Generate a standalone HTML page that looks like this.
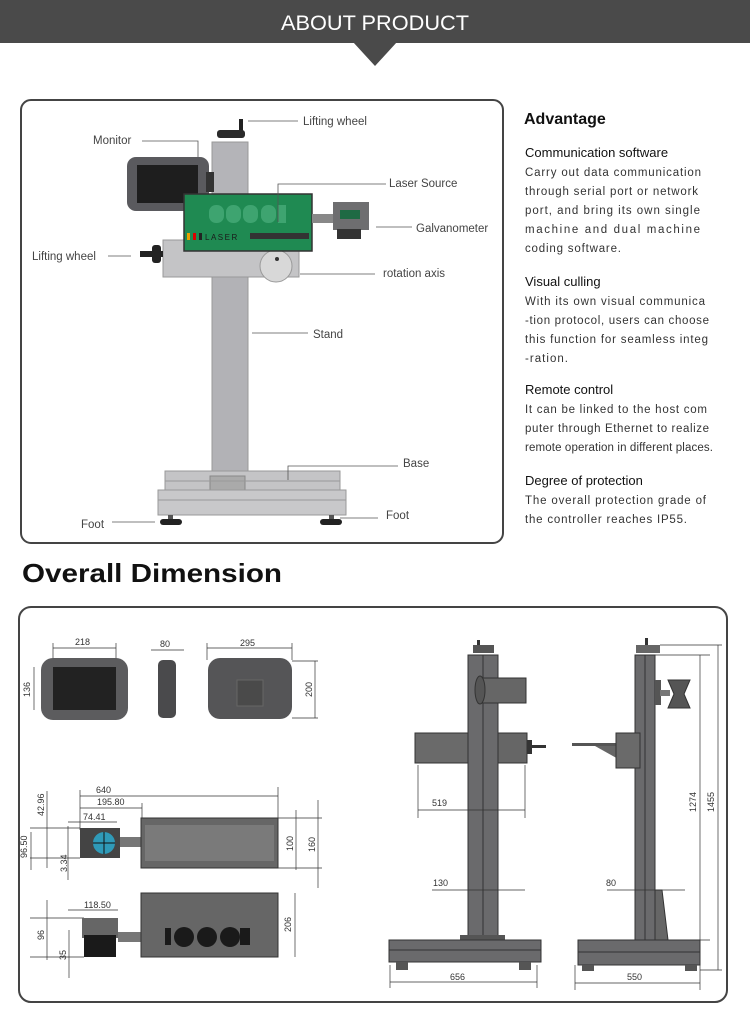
<!DOCTYPE html>
<html><head><meta charset="utf-8"><style>
html,body{margin:0;padding:0;background:#fff;}
svg{display:block;font-family:"Liberation Sans",sans-serif;}
</style></head><body>
<svg width="750" height="1017" viewBox="0 0 750 1017" xmlns="http://www.w3.org/2000/svg">
<!-- header -->
<rect x="0" y="0" width="750" height="43" fill="#4a4a4a"/>
<polygon points="353,42 397,42 375,66" fill="#4a4a4a"/>
<text x="375" y="30" fill="#fff" font-size="21" text-anchor="middle" textLength="188" lengthAdjust="spacingAndGlyphs">ABOUT PRODUCT</text>

<!-- top box -->
<rect x="21" y="100" width="482" height="443" rx="10" fill="#fff" stroke="#444" stroke-width="2"/>

<!-- machine -->
<g>
<!-- top lifting wheel -->
<rect x="239" y="119" width="4" height="12" fill="#222"/>
<rect x="217" y="130" width="28" height="8" rx="3" fill="#2a2a2a"/>
<!-- upper pole -->
<rect x="212" y="142" width="36" height="55" fill="#b4b4b8" stroke="#999"/>
<!-- monitor -->
<rect x="127" y="157" width="82" height="54" rx="9" fill="#5a5a5e"/>
<rect x="137" y="165" width="61" height="38" fill="#1e1e1e"/>
<rect x="206" y="172" width="8" height="20" fill="#333"/>
<!-- crossbar -->
<rect x="163" y="240" width="136" height="37" fill="#c4c4c6" stroke="#999"/>
<rect x="140" y="251" width="23" height="6" fill="#222"/>
<rect x="152" y="245" width="9" height="18" rx="3" fill="#222"/>
<circle cx="276" cy="266" r="16" fill="#d8d8d8" stroke="#999"/>
<circle cx="277" cy="259" r="2" fill="#333"/>
<!-- green laser -->
<rect x="184" y="194" width="128" height="57" fill="#1f8a52" stroke="#333" stroke-width="1.5"/>
<g fill="#3ea470">
<rect x="209" y="205" width="15" height="18" rx="7"/><rect x="226" y="205" width="15" height="18" rx="7"/><rect x="243" y="205" width="15" height="18" rx="7"/><rect x="261" y="205" width="15" height="18" rx="7"/><rect x="278" y="205" width="8" height="18"/>
</g>
<rect x="187" y="233" width="3" height="7" fill="#e8a000"/>
<rect x="193" y="233" width="3" height="7" fill="#d00"/>
<rect x="199" y="233" width="3" height="7" fill="#222"/>
<text x="205" y="240" font-size="8" fill="#1a1a1a" letter-spacing="1.5">LASER</text>
<rect x="250" y="233" width="59" height="6" fill="#333"/>
<!-- galvo -->
<rect x="312" y="214" width="22" height="9" fill="#888"/>
<rect x="333" y="202" width="36" height="28" fill="#6e6e70"/>
<rect x="340" y="210" width="20" height="9" fill="#1f6a44"/>
<rect x="337" y="229" width="24" height="10" fill="#333"/>
<!-- stand -->
<rect x="212" y="277" width="36" height="207" fill="#b2b2b6" stroke="#999"/>
<!-- base -->
<rect x="165" y="471" width="175" height="19" fill="#c4c4c6" stroke="#999"/>
<rect x="210" y="476" width="35" height="14" fill="#aaa" stroke="#888"/>
<rect x="158" y="490" width="188" height="25" fill="#c8c8ca" stroke="#999"/>
<line x1="158" y1="500" x2="346" y2="500" stroke="#999"/>
<line x1="165" y1="481" x2="340" y2="481" stroke="#999"/>
<rect x="168" y="515" width="5" height="5" fill="#555"/>
<rect x="160" y="519" width="22" height="6" rx="3" fill="#222"/>
<rect x="329" y="515" width="5" height="5" fill="#555"/>
<rect x="320" y="519" width="22" height="6" rx="3" fill="#222"/>
</g>
<!-- leader lines -->
<g stroke="#555" stroke-width="0.8" fill="none">
<line x1="248" y1="121" x2="298" y2="121"/>
<polyline points="142,141 198,141 198,157"/>
<polyline points="278,222 278,184 386,184"/>
<line x1="376" y1="227" x2="412" y2="227"/>
<line x1="108" y1="256" x2="131" y2="256"/>
<line x1="300" y1="274" x2="375" y2="274"/>
<line x1="252" y1="333" x2="308" y2="333"/>
<polyline points="288,480 288,466 398,466"/>
<line x1="112" y1="522" x2="155" y2="522"/>
<line x1="340" y1="518" x2="378" y2="518"/>
</g>
<g font-size="11.5" fill="#444">
<text x="303" y="125">Lifting wheel</text>
<text x="93" y="144">Monitor</text>
<text x="389" y="187">Laser  Source</text>
<text x="416" y="232">Galvanometer</text>
<text x="32" y="260">Lifting wheel</text>
<text x="383" y="277">rotation axis</text>
<text x="313" y="338">Stand</text>
<text x="403" y="467">Base</text>
<text x="81" y="528">Foot</text>
<text x="386" y="519">Foot</text>
</g>

<!-- advantage text -->
<text x="524" y="124" font-size="16" font-weight="bold" fill="#111">Advantage</text>
<g fill="#111" font-size="13">
<text x="525" y="157">Communication software</text>
<text x="525" y="286">Visual culling</text>
<text x="525" y="394">Remote control</text>
<text x="525" y="485">Degree of protection</text>
</g>
<g fill="#333" font-size="11.5" lengthAdjust="spacingAndGlyphs">
<text x="525" y="176" textLength="176">Carry out data communication</text>
<text x="525" y="195" textLength="173">through serial port or network</text>
<text x="525" y="214" textLength="175">port, and bring its own single</text>
<text x="525" y="233" textLength="175">machine and dual machine</text>
<text x="525" y="252" textLength="96">coding software.</text>
<text x="525" y="305" textLength="180">With its own visual communica</text>
<text x="525" y="324" textLength="184">-tion protocol, users can choose</text>
<text x="525" y="343" textLength="183">this function for seamless integ</text>
<text x="525" y="362" textLength="43">-ration.</text>
<text x="525" y="413" textLength="182">It can be linked to the host com</text>
<text x="525" y="432" textLength="184">puter through Ethernet to realize</text>
<text x="525" y="451" textLength="188">remote operation in different places.</text>
<text x="525" y="504" textLength="181">The overall protection grade of</text>
<text x="525" y="523" textLength="162">the controller reaches IP55.</text>
</g>

<!-- Overall Dimension -->
<text x="22" y="582" font-size="26" font-weight="bold" fill="#111" textLength="260" lengthAdjust="spacingAndGlyphs">Overall Dimension</text>
<rect x="19" y="607" width="708" height="395" rx="12" fill="#fff" stroke="#444" stroke-width="2"/>

<!-- left dims -->
<g stroke="#333" stroke-width="0.7" fill="none">
<line x1="53" y1="648" x2="116" y2="648"/><line x1="53" y1="643" x2="53" y2="665"/><line x1="116" y1="643" x2="116" y2="665"/>
<line x1="34" y1="667" x2="34" y2="710"/>
<line x1="151" y1="650" x2="184" y2="650"/>
<line x1="207" y1="648" x2="292" y2="648"/><line x1="207" y1="643" x2="207" y2="660"/><line x1="292" y1="643" x2="292" y2="660"/>
<line x1="315" y1="661" x2="315" y2="718"/><line x1="292" y1="661" x2="318" y2="661"/><line x1="292" y1="718" x2="318" y2="718"/>
<line x1="80" y1="796" x2="278" y2="796"/><line x1="80" y1="790" x2="80" y2="830"/><line x1="278" y1="787" x2="278" y2="818"/>
<line x1="80" y1="808" x2="142" y2="808"/><line x1="142" y1="803" x2="142" y2="818"/>
<line x1="68" y1="822" x2="117" y2="822"/>
<line x1="47" y1="791" x2="47" y2="868"/><line x1="30" y1="828" x2="80" y2="828"/><line x1="30" y1="858" x2="80" y2="858"/>
<line x1="31" y1="832" x2="31" y2="870"/><line x1="68" y1="826" x2="68" y2="880"/>
<line x1="296" y1="810" x2="296" y2="870"/><line x1="318" y1="800" x2="318" y2="888"/>
<line x1="278" y1="818" x2="322" y2="818"/><line x1="278" y1="868" x2="322" y2="868"/>
<line x1="68" y1="910" x2="118" y2="910"/>
<line x1="47" y1="900" x2="47" y2="960"/><line x1="30" y1="918" x2="84" y2="918"/><line x1="30" y1="957" x2="84" y2="957"/>
<line x1="69" y1="930" x2="69" y2="978"/>
<line x1="295" y1="893" x2="295" y2="957"/>
</g>
<rect x="41" y="658" width="87" height="62" rx="12" fill="#5c5c5e"/>
<rect x="53" y="667" width="63" height="43" fill="#222"/>
<rect x="158" y="660" width="18" height="58" rx="5" fill="#4a4a4c"/>
<rect x="208" y="658" width="84" height="61" rx="12" fill="#555557"/>
<rect x="237" y="680" width="26" height="26" fill="#4a4a4a" stroke="#666"/>
<rect x="80" y="828" width="40" height="30" fill="#444"/>
<circle cx="104" cy="843" r="11" fill="#2f9ab8"/>
<line x1="93" y1="843" x2="115" y2="843" stroke="#111"/><line x1="104" y1="832" x2="104" y2="854" stroke="#111"/>
<rect x="120" y="837" width="22" height="10" fill="#777"/>
<rect x="141" y="818" width="137" height="50" fill="#666" stroke="#333"/>
<rect x="145" y="825" width="129" height="36" fill="#7a7a7a"/>
<rect x="82" y="918" width="36" height="20" fill="#666"/>
<rect x="84" y="935" width="32" height="22" fill="#1a1a1a"/>
<rect x="118" y="932" width="24" height="10" fill="#777"/>
<rect x="141" y="893" width="137" height="64" fill="#666" stroke="#333"/>
<g fill="#1a1a1a"><rect x="165" y="928" width="6" height="17"/><circle cx="184" cy="937" r="10"/><circle cx="207" cy="937" r="10"/><circle cx="230" cy="937" r="10"/><rect x="240" y="928" width="10" height="17"/></g>
<g font-size="9" fill="#333">
<text x="75" y="645">218</text><text x="160" y="647">80</text><text x="240" y="646">295</text>
<text x="96" y="793">640</text><text x="97" y="805">195.80</text><text x="83" y="820">74.41</text><text x="84" y="908">118.50</text>
<text transform="translate(30,697) rotate(-90)">136</text>
<text transform="translate(312,697) rotate(-90)">200</text>
<text transform="translate(44,816) rotate(-90)">42.96</text>
<text transform="translate(27,858) rotate(-90)">96.50</text>
<text transform="translate(67,872) rotate(-90)">3.34</text>
<text transform="translate(293,851) rotate(-90)">100</text>
<text transform="translate(315,852) rotate(-90)">160</text>
<text transform="translate(44,940) rotate(-90)">96</text>
<text transform="translate(66,960) rotate(-90)">35</text>
<text transform="translate(291,932) rotate(-90)">206</text>
</g>

<!-- right front stand -->
<rect x="477" y="640" width="3" height="8" fill="#333"/>
<rect x="473" y="645" width="21" height="8" fill="#555"/>
<rect x="468" y="655" width="30" height="285" fill="#6a6a6c" stroke="#333"/>
<line x1="483" y1="655" x2="483" y2="940" stroke="#333"/>
<rect x="478" y="678" width="48" height="25" fill="#666" stroke="#333"/>
<ellipse cx="480" cy="690" rx="5" ry="14" fill="#555" stroke="#333"/>
<rect x="415" y="733" width="53" height="30" fill="#6a6a6a" stroke="#333"/>
<rect x="498" y="733" width="29" height="30" fill="#666" stroke="#333"/>
<rect x="527" y="740" width="5" height="14" fill="#333"/><rect x="532" y="745" width="14" height="3" fill="#333"/>
<rect x="460" y="935" width="45" height="5" fill="#555"/>
<rect x="389" y="940" width="152" height="22" fill="#6a6a6c" stroke="#333"/>
<line x1="389" y1="950" x2="541" y2="950" stroke="#333"/>
<rect x="396" y="962" width="12" height="8" fill="#555"/><rect x="519" y="962" width="12" height="8" fill="#555"/>
<!-- right side stand -->
<rect x="645" y="638" width="3" height="8" fill="#333"/>
<rect x="636" y="645" width="24" height="8" fill="#666"/>
<rect x="635" y="655" width="20" height="285" fill="#6a6a6c" stroke="#333"/>
<line x1="645" y1="655" x2="645" y2="940" stroke="#333"/>
<rect x="655" y="680" width="6" height="25" fill="#555"/>
<rect x="660" y="690" width="10" height="6" fill="#777"/>
<polygon points="668,680 690,680 684,694 690,708 668,708 674,694" fill="#555" stroke="#333"/>
<rect x="572" y="743" width="48" height="3" fill="#555"/>
<polygon points="595,746 620,746 620,760" fill="#666"/>
<rect x="616" y="733" width="24" height="35" fill="#6a6a6a" stroke="#333"/>
<polygon points="655,890 662,890 668,940 655,940" fill="#666" stroke="#333"/>
<rect x="578" y="940" width="122" height="25" fill="#6a6a6c" stroke="#333"/>
<line x1="578" y1="952" x2="700" y2="952" stroke="#333"/>
<rect x="582" y="965" width="12" height="6" fill="#555"/><rect x="685" y="965" width="12" height="6" fill="#555"/>
<g stroke="#333" stroke-width="0.7" fill="none">
<line x1="418" y1="810" x2="525" y2="810"/><line x1="418" y1="765" x2="418" y2="818"/><line x1="525" y1="765" x2="525" y2="818"/>
<line x1="432" y1="890" x2="525" y2="890"/>
<line x1="390" y1="982" x2="537" y2="982"/><line x1="390" y1="965" x2="390" y2="988"/><line x1="537" y1="965" x2="537" y2="988"/>
<line x1="607" y1="890" x2="685" y2="890"/>
<line x1="575" y1="983" x2="700" y2="983"/><line x1="575" y1="965" x2="575" y2="990"/><line x1="700" y1="965" x2="700" y2="990"/>
<line x1="700" y1="655" x2="700" y2="940"/><line x1="655" y1="655" x2="710" y2="655"/><line x1="690" y1="940" x2="710" y2="940"/>
<line x1="718" y1="645" x2="718" y2="970"/><line x1="660" y1="645" x2="722" y2="645"/><line x1="700" y1="970" x2="722" y2="970"/>
</g>
<g font-size="9" fill="#333">
<text x="432" y="806">519</text><text x="433" y="886">130</text><text x="450" y="980">656</text>
<text x="606" y="886">80</text><text x="627" y="980">550</text>
<text transform="translate(696,812) rotate(-90)">1274</text>
<text transform="translate(714,812) rotate(-90)">1455</text>
</g>
</svg>
</body></html>
